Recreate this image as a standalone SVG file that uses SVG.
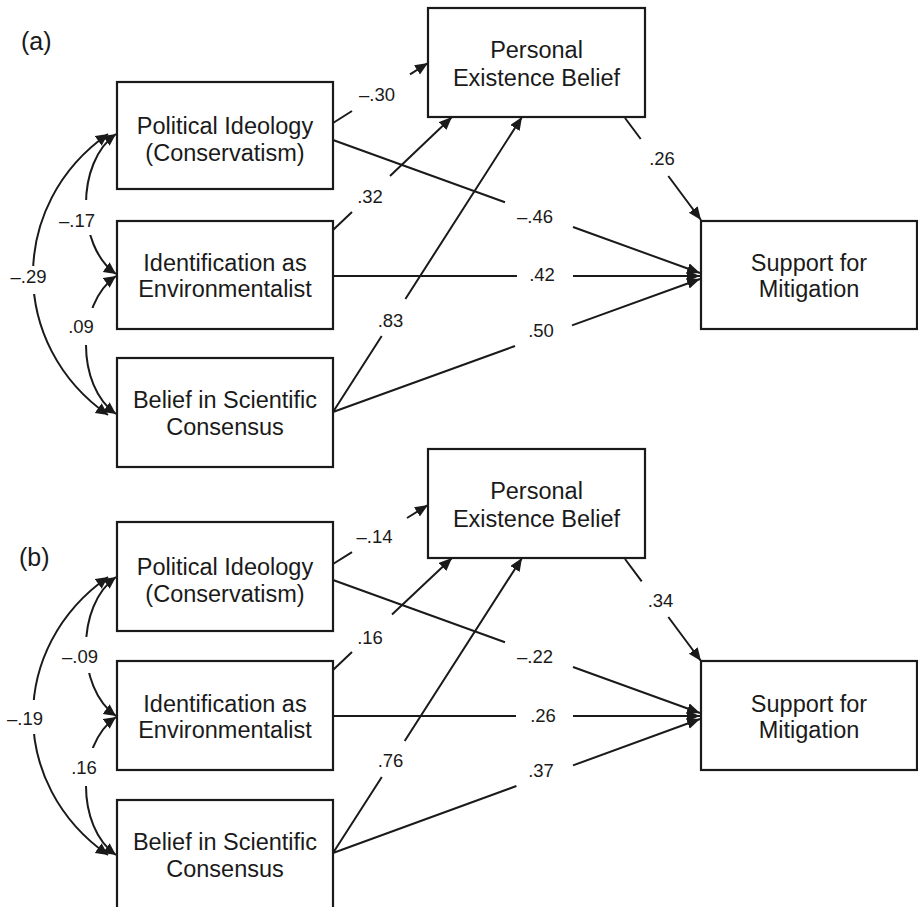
<svg xmlns="http://www.w3.org/2000/svg" width="918" height="907" viewBox="0 0 918 907">
<style>
.box{fill:#fff;stroke:#1a1a1a;stroke-width:2.2}
.nt{font-family:"Liberation Sans",Arial,Helvetica,sans-serif;font-size:23.5px;fill:#1a1a1a;text-anchor:middle}
.lb{font-family:"Liberation Sans",Arial,Helvetica,sans-serif;font-size:18.5px;fill:#1a1a1a;text-anchor:middle}
.pl{font-family:"Liberation Sans",Arial,Helvetica,sans-serif;font-size:25px;fill:#1a1a1a}
.ln{fill:none;stroke:#1a1a1a;stroke-width:2}
.ar{marker-end:url(#ah)}
.cv{marker-start:url(#ah2);marker-end:url(#ah2)}
</style>
<defs>
<marker id="ah" markerUnits="userSpaceOnUse" markerWidth="14" markerHeight="12" refX="13" refY="5.5" orient="auto" viewBox="0 0 14 12">
<path d="M0,0 L13,5.5 L0,11 z" fill="#1a1a1a"/>
</marker>
<marker id="ah2" markerUnits="userSpaceOnUse" markerWidth="13" markerHeight="13" refX="12" refY="6" orient="auto-start-reverse" viewBox="0 0 13 13">
<path d="M0,0 L12,6 L0,12 z" fill="#1a1a1a"/>
</marker>
<mask id="arcgap" maskUnits="userSpaceOnUse" x="0" y="0" width="918" height="907">
<rect x="0" y="0" width="918" height="907" fill="#fff"/>
<rect x="3" y="266" width="55" height="28" fill="#000"/>
<rect x="58" y="200" width="45" height="35" fill="#000"/>
<rect x="60" y="308" width="43" height="37" fill="#000"/>
<rect x="3" y="700" width="55" height="34" fill="#000"/>
<rect x="58" y="637" width="45" height="36" fill="#000"/>
<rect x="60" y="748" width="43" height="38" fill="#000"/>
</mask>
</defs>
<rect x="0" y="0" width="918" height="907" fill="#fff"/>

<text class="pl" x="21" y="50">(a)</text>
<text class="pl" x="19" y="566">(b)</text>

<g id="connectors">
<g id="connectors-a">
<path class="ln ar" d="M333,123 L352,111 M410,74.4 L428,63"/>
<path class="ln ar" d="M333,230 L352,212 M390,176 L452,117"/>
<path class="ln ar" d="M333,412 L381.7,336 M405.4,299 L522,117"/>
<path class="ln ar" d="M625,118 L640.7,139 M668.3,176 L701,220"/>
<path class="ln ar" d="M333,140 L505,202.3 M573,227 L700,273"/>
<path class="ln ar" d="M333,276 L517,276 M573,276 L700,276"/>
<path class="ln ar" d="M333,412 L515,346 M572,325.4 L700,279"/>
<g mask="url(#arcgap)">
<path class="ln cv" d="M108,134 C8,204 8,345 108,415"/>
<path class="ln cv" d="M116,134 C76,162 76,246 116,274"/>
<path class="ln cv" d="M116,276 C76,304 76,386 116,414"/>
</g>
<text class="lb" x="377" y="101">–.30</text>
<text class="lb" x="370" y="203">.32</text>
<text class="lb" x="390.5" y="327">.83</text>
<text class="lb" x="662" y="165">.26</text>
<text class="lb" x="535" y="223">–.46</text>
<text class="lb" x="542" y="281">.42</text>
<text class="lb" x="541" y="337">.50</text>
<text class="lb" x="28.5" y="283">–.29</text>
<text class="lb" x="77" y="227">–.17</text>
<text class="lb" x="81" y="333">.09</text>
</g>
<g id="connectors-b">
<path class="ln ar" d="M333,564 L352,552.2 M407,518 L428,505"/>
<path class="ln ar" d="M333,670 L352,652 M392,614.5 L452,558"/>
<path class="ln ar" d="M333,853 L381.8,777 M404.7,741 L522,558"/>
<path class="ln ar" d="M625,559 L641.7,581.4 M668.3,617 L701,661"/>
<path class="ln ar" d="M333,580 L505,642.3 M573,667 L700,713"/>
<path class="ln ar" d="M333,716 L516,716 M573,716 L700,716"/>
<path class="ln ar" d="M333,853 L516.4,786 M573,765.4 L700,719"/>
<g mask="url(#arcgap)">
<path class="ln cv" d="M108,577 C8,647 8,785 108,855"/>
<path class="ln cv" d="M116,577 C76,605 76,688 116,716"/>
<path class="ln cv" d="M116,717 C76,745 76,827 116,855"/>
</g>
<text class="lb" x="374.5" y="543">–.14</text>
<text class="lb" x="370" y="644">.16</text>
<text class="lb" x="390.5" y="767">.76</text>
<text class="lb" x="660.5" y="607">.34</text>
<text class="lb" x="535" y="663">–.22</text>
<text class="lb" x="543" y="722">.26</text>
<text class="lb" x="541" y="777">.37</text>
<text class="lb" x="25" y="725">–.19</text>
<text class="lb" x="80" y="663">–.09</text>
<text class="lb" x="84" y="774">.16</text>
</g>
</g>

<g id="a-political">
<rect class="box" x="117" y="82" width="216" height="107"/>
<text class="nt" x="225" y="134">Political Ideology</text>
<text class="nt" x="225" y="161">(Conservatism)</text>
</g>
<g id="a-identification">
<rect class="box" x="117" y="221" width="216" height="108"/>
<text class="nt" x="225" y="271">Identification as</text>
<text class="nt" x="225" y="297">Environmentalist</text>
</g>
<g id="a-belief">
<rect class="box" x="117" y="358" width="216" height="109"/>
<text class="nt" x="225" y="408">Belief in Scientific</text>
<text class="nt" x="225" y="435">Consensus</text>
</g>
<g id="a-personal">
<rect class="box" x="428" y="8" width="217" height="109"/>
<text class="nt" x="536.5" y="58">Personal</text>
<text class="nt" x="536.5" y="86">Existence Belief</text>
</g>
<g id="a-support">
<rect class="box" x="701" y="221" width="216" height="108"/>
<text class="nt" x="809" y="271">Support for</text>
<text class="nt" x="809" y="297">Mitigation</text>
</g>

<g id="b-political">
<rect class="box" x="117" y="522" width="216" height="109"/>
<text class="nt" x="225" y="575">Political Ideology</text>
<text class="nt" x="225" y="602">(Conservatism)</text>
</g>
<g id="b-identification">
<rect class="box" x="117" y="661" width="216" height="109"/>
<text class="nt" x="225" y="712">Identification as</text>
<text class="nt" x="225" y="738">Environmentalist</text>
</g>
<g id="b-belief">
<rect class="box" x="117" y="800" width="216" height="109"/>
<text class="nt" x="225" y="850">Belief in Scientific</text>
<text class="nt" x="225" y="877">Consensus</text>
</g>
<g id="b-personal">
<rect class="box" x="428" y="449" width="217" height="109"/>
<text class="nt" x="536.5" y="499">Personal</text>
<text class="nt" x="536.5" y="527">Existence Belief</text>
</g>
<g id="b-support">
<rect class="box" x="701" y="661" width="216" height="109"/>
<text class="nt" x="809" y="712">Support for</text>
<text class="nt" x="809" y="738">Mitigation</text>
</g>
</svg>
